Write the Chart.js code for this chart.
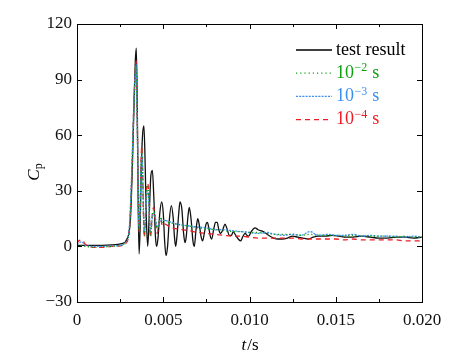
<!DOCTYPE html>
<html>
<head>
<meta charset="utf-8">
<script src="https://cdn.jsdelivr.net/npm/chart.js@4.4.1/dist/chart.umd.min.js"></script>
<style>
  html, body { margin: 0; padding: 0; background: #fff; }
  #wrap { width: 474px; height: 358px; }
</style>
</head>
<body>
<div id="wrap"><canvas id="cp-chart" width="474" height="358"></canvas></div>
<script>
// measured pressure coefficient (test)
const tTest = [0, 0.0010, 0.0020, 0.0026, 0.0029, 0.0031, 0.0032, 0.0033, 0.00338, 0.00344, 0.00350, 0.00355, 0.00360,
  0.00366, 0.00372, 0.00380, 0.00388, 0.00395, 0.00402, 0.00410, 0.00418, 0.00428, 0.00437, 0.00446, 0.00455, 0.00462,
  0.00470, 0.00480, 0.00491, 0.00500, 0.00508, 0.00516, 0.00525, 0.00535, 0.00547, 0.00558, 0.00566, 0.00572, 0.00580,
  0.00590, 0.00597, 0.00608, 0.00618, 0.00626, 0.00633, 0.00643, 0.00651, 0.00662, 0.00672, 0.00680, 0.00690, 0.00700,
  0.00710, 0.00720, 0.00728, 0.00738, 0.00748, 0.00756, 0.00766, 0.00774, 0.00781, 0.00792, 0.00803, 0.00813, 0.00822,
  0.00833, 0.00845, 0.00858, 0.00868, 0.00883, 0.00895, 0.00906, 0.00920, 0.00935, 0.00949, 0.00960, 0.00974, 0.00985,
  0.00995, 0.01010, 0.01032, 0.01050, 0.01080, 0.01110, 0.01140, 0.01166, 0.01190, 0.01220, 0.01250, 0.01280, 0.01310,
  0.01340, 0.01370, 0.01400, 0.01440, 0.01480, 0.01520, 0.01560, 0.01600, 0.01650, 0.01700, 0.01750, 0.01800, 0.01850,
  0.01900, 0.01950, 0.02000];
const cpTest = [0.5, 0.5, 0.8, 1.5, 4, 15, 40, 75, 100, 107, 70, 20, -4,
  10, 40, 60, 65, 45, 15, 0, 15, 38, 41, 25, 5, 0,
  5, 18, 24, 18, 3, -5, 0, 14, 22, 15, 4, 0, 6,
  18, 24, 20, 7, 2, 5, 16, 21, 14, 3, 0, 9, 15,
  11, 5, 3, 7, 12, 13, 9, 5, 4, 9, 13, 13, 9,
  7, 9, 12, 10, 6, 6, 8, 6, 4, 3, 5, 7, 6,
  5.5, 8, 10, 9, 8, 6, 4.5, 4, 4, 4.5, 5.5, 5, 4.5,
  4, 5, 5.5, 5.5, 6, 5.5, 5, 5, 5.5, 5, 4.5, 4.5, 5,
  5, 4.5, 5];

// simulations with different time steps
const tSim = [0, 0.0001, 0.00027, 0.0005, 0.001, 0.0015, 0.002, 0.0025, 0.0028, 0.003, 0.0031, 0.0032, 0.0033, 0.0034,
  0.00343, 0.0035, 0.00355, 0.0036, 0.00366, 0.00372, 0.00376, 0.0038, 0.00386, 0.0039, 0.00396, 0.0040, 0.00408,
  0.00415, 0.0042, 0.00426, 0.0043, 0.00436, 0.00445, 0.00455, 0.00465, 0.00475, 0.00485, 0.00495, 0.0051, 0.0053,
  0.0055, 0.0058, 0.0061, 0.0065, 0.007, 0.0075, 0.008, 0.0085, 0.009, 0.0095, 0.010, 0.0105, 0.011, 0.0115, 0.012,
  0.0125, 0.013, 0.0135, 0.014, 0.0145, 0.015, 0.0155, 0.016, 0.0165, 0.017, 0.0175, 0.018, 0.0185, 0.019, 0.0195, 0.020];
const cpDt2 = [0.3, 0.2, 0.5, 0, -0.5, -0.3, 0, 0.5, 1.5, 6, 20, 45, 75, 95,
  97, 60, 25, 8, 20, 45, 52, 40, 15, 6, 12, 25, 33,
  28, 15, 6, 9, 16, 20, 14, 9, 13, 16, 13, 14, 13,
  12.5, 12, 11.5, 11, 10, 9.5, 9, 8.5, 8, 8, 7.5, 7.5, 7, 6.5, 6.5,
  6.5, 6, 6.5, 6, 6, 6, 5.5, 6, 5.5, 5.5, 5.5, 5.5, 5, 5.5, 5, 5];
const cpDt3 = [1, 2, 2.5, 0.5, 0, 0, 0.2, 0.5, 2, 7, 22, 48, 78, 96,
  98, 62, 28, 10, 18, 42, 50, 42, 18, 8, 12, 22, 30,
  26, 16, 8, 10, 15, 18, 15, 10, 12, 15, 14, 14, 13.5,
  13, 12, 11.5, 11, 10.5, 10, 9, 9, 8.5, 8, 7.5, 7, 7.5, 6.5, 6,
  6.5, 6, 8, 6, 6.5, 6, 6, 6.5, 5.5, 6, 5.5, 5.5, 5.5, 5, 5.5, 5];
const cpDt4 = [1.5, 3, 3.5, 1, -0.5, -0.5, 0, 0.3, 1.5, 6, 20, 46, 78, 97,
  100, 65, 28, 8, 22, 48, 54, 42, 14, 5, 14, 26, 34,
  30, 16, 5, 8, 17, 21, 13, 7, 12, 15, 11, 12, 11,
  10, 9.5, 9, 8.5, 7.5, 7, 6.5, 6, 5.5, 5.5, 5, 4.5, 4.5, 4.5, 4.5,
  4.5, 4, 4, 4, 4, 4, 3.5, 4, 3.5, 3.5, 3.5, 3.5, 3.5, 3, 3, 3];

const xTicks = [0, 0.005, 0.010, 0.015, 0.020];
const yTicks = [-30, 0, 30, 60, 90, 120];

const serif = '"Liberation Serif", "DejaVu Serif", serif';
const GREEN = '#11a011', BLUE = '#3b8ff0', RED = '#ee1c24';

function pts(t, v) {
  return t.map((x, i) => ({ x: x, y: v[i] }));
}

// legend rows drawn inside the plot
const legendRows = [
  { base: 'test result', sup: '', tail: '', color: '#000', dash: [] },
  { base: '10', sup: '\u22122', tail: ' s', color: GREEN, dash: [1.2, 3] },
  { base: '10', sup: '\u22123', tail: ' s', color: BLUE, dash: [2, 1.2] },
  { base: '10', sup: '\u22124', tail: ' s', color: RED, dash: [5, 4] }
];

const framePlugin = {
  id: 'frame',
  afterDraw(chart) {
    const ctx = chart.ctx;
    const a = chart.chartArea;
    const xs = chart.scales.x, ys = chart.scales.y;
    ctx.save();
    ctx.strokeStyle = '#000';
    ctx.lineWidth = 1;
    ctx.setLineDash([]);
    ctx.strokeRect(Math.round(a.left) + 0.5, Math.round(a.top) + 0.5,
      Math.round(a.right - a.left), Math.round(a.bottom - a.top));

    // inward ticks on all four sides
    ctx.beginPath();
    xTicks.forEach(v => {
      const px = Math.round(xs.getPixelForValue(v)) + 0.5;
      ctx.moveTo(px, a.bottom); ctx.lineTo(px, a.bottom - 5);
      ctx.moveTo(px, a.top); ctx.lineTo(px, a.top + 5);
    });
    for (let i = 0; i < xTicks.length - 1; i++) {
      const px = Math.round(xs.getPixelForValue((xTicks[i] + xTicks[i + 1]) / 2)) + 0.5;
      ctx.moveTo(px, a.bottom); ctx.lineTo(px, a.bottom - 3);
      ctx.moveTo(px, a.top); ctx.lineTo(px, a.top + 3);
    }
    yTicks.forEach(v => {
      const py = Math.round(ys.getPixelForValue(v)) + 0.5;
      ctx.moveTo(a.left, py); ctx.lineTo(a.left + 5, py);
      ctx.moveTo(a.right, py); ctx.lineTo(a.right - 5, py);
    });
    ctx.stroke();

    // legend
    ctx.textBaseline = 'middle';
    legendRows.forEach((r, i) => {
      const y = 50 + i * 23.2;
      ctx.strokeStyle = r.color;
      ctx.lineWidth = 1.3;
      ctx.setLineDash(r.dash);
      ctx.beginPath();
      ctx.moveTo(296, y); ctx.lineTo(332, y);
      ctx.stroke();
      ctx.setLineDash([]);
      ctx.fillStyle = r.color;
      ctx.font = '18px ' + serif;
      let x = 336;
      ctx.fillText(r.base, x, y);
      x += ctx.measureText(r.base).width;
      if (r.sup) {
        ctx.font = '12px ' + serif;
        ctx.fillText(r.sup, x + 0.5, y - 5);
        x += ctx.measureText(r.sup).width + 1;
        ctx.font = '18px ' + serif;
        ctx.fillText(r.tail, x, y);
      }
    });

    // axis titles
    ctx.fillStyle = '#000';
    ctx.font = 'italic 17px ' + serif;
    const tw = ctx.measureText('t').width;
    ctx.font = '17px ' + serif;
    const sw = ctx.measureText('/s').width;
    let x0 = (a.left + a.right) / 2 - (tw + sw) / 2;
    ctx.font = 'italic 17px ' + serif;
    ctx.fillText('t', x0, 346);
    ctx.font = '17px ' + serif;
    ctx.fillText('/s', x0 + tw + 1, 346);

    ctx.translate(35, 172);
    ctx.rotate(-Math.PI / 2);
    ctx.font = 'italic 17px ' + serif;
    const cw = ctx.measureText('C').width;
    ctx.font = '12px ' + serif;
    const pw = ctx.measureText('p').width;
    ctx.textAlign = 'left';
    ctx.font = 'italic 17px ' + serif;
    ctx.fillText('C', -(cw + pw) / 2, 0);
    ctx.font = '12px ' + serif;
    ctx.fillText('p', -(cw + pw) / 2 + cw, 4);
    ctx.restore();
  }
};

const ctx = document.getElementById('cp-chart').getContext('2d');
const chart = new Chart(ctx, {
  type: 'line',
  data: {
    datasets: [
      {
        label: '10^-2 s',
        data: pts(tSim, cpDt2),
        borderColor: GREEN,
        borderWidth: 1.3,
        borderDash: [1.2, 2.5]
      },
      {
        label: '10^-3 s',
        data: pts(tSim, cpDt3),
        borderColor: BLUE,
        borderWidth: 1.3,
        borderDash: [2, 1.2]
      },
      {
        label: '10^-4 s',
        data: pts(tSim, cpDt4),
        borderColor: RED,
        borderWidth: 1.3,
        borderDash: [5, 4]
      },
      {
        label: 'test result',
        data: pts(tTest, cpTest),
        borderColor: '#111',
        borderWidth: 1.3
      }
    ]
  },
  options: {
    responsive: false,
    animation: false,
    parsing: false,
    layout: { padding: { left: 0, right: 52, top: 24, bottom: 0 } },
    elements: {
      point: { radius: 0 },
      line: { cubicInterpolationMode: 'monotone', fill: false }
    },
    plugins: {
      legend: { display: false },
      tooltip: { enabled: false }
    },
    scales: {
      x: {
        type: 'linear',
        min: 0,
        max: 0.02,
        grid: { display: false, drawTicks: false },
        border: { display: false },
        afterBuildTicks: s => { s.ticks = xTicks.map(v => ({ value: v })); },
        afterFit: s => { s.height = 56; },
        ticks: {
          padding: 8,
          color: '#111',
          maxRotation: 0,
          font: { family: serif, size: 17 },
          callback: v => (v === 0 ? '0' : v.toFixed(3))
        }
      },
      y: {
        min: -30,
        max: 120,
        grid: { display: false, drawTicks: false },
        border: { display: false },
        afterBuildTicks: s => { s.ticks = yTicks.map(v => ({ value: v })); },
        afterFit: s => { s.width = 77; },
        ticks: {
          padding: 5,
          color: '#111',
          font: { family: serif, size: 17 },
          callback: v => (v < 0 ? '\u2212' + Math.abs(v) : String(v))
        }
      }
    }
  },
  plugins: [framePlugin]
});
</script>
</body>
</html>
